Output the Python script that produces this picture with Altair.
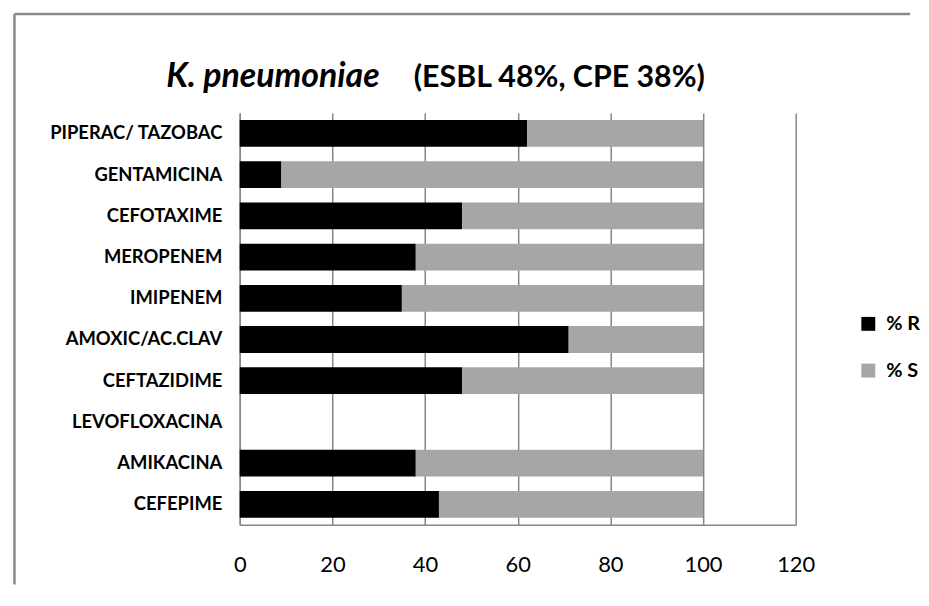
import altair as alt
import pandas as pd

# ---- data ----
drugs = ["PIPERAC/ TAZOBAC", "GENTAMICINA", "CEFOTAXIME", "MEROPENEM", "IMIPENEM",
         "AMOXIC/AC.CLAV", "CEFTAZIDIME", "LEVOFLOXACINA", "AMIKACINA", "CEFEPIME"]
pct_r = [62, 9, 48, 38, 35, 71, 48, 0, 38, 43]
pct_s = [38, 91, 52, 62, 65, 29, 52, 0, 62, 57]
series = ["% R", "% S"]
colors = ["#000000", "#a6a6a6"]
x_ticks = [0, 20, 40, 60, 80, 100, 120]
title_main = "K. pneumoniae"
title_sub = "(ESBL 48%, CPE 38%)"

rows = []
for d, r, s in zip(drugs, pct_r, pct_s):
    rows.append({"drug": d, "serie": series[0], "val": r, "ord": 0})
    rows.append({"drug": d, "serie": series[1], "val": s, "ord": 1})
df = pd.DataFrame(rows)

FONT = "Lato"
GRID = "#868686"

bars = alt.Chart(df).mark_bar().encode(
    y=alt.Y("drug:N", sort=drugs,
            scale=alt.Scale(paddingInner=0.35, paddingOuter=0.17),
            axis=alt.Axis(title=None, ticks=False, labelFont=FONT, labelFontSize=18.5,
                          labelFontWeight="bold", labelColor="#000000", labelPadding=18,
                          domainColor=GRID, domainWidth=1.5, grid=False)),
    x=alt.X("val:Q", stack="zero",
            scale=alt.Scale(domain=[0, 120], nice=False),
            axis=alt.Axis(title=None, values=x_ticks, ticks=False, labelFont=FONT,
                          labelFontSize=22, labelColor="#000000", labelPadding=30,
                          grid=True, gridColor=GRID, gridWidth=1.5,
                          domainColor=GRID, domainWidth=1.5, labelFlush=False)),
    color=alt.Color("serie:N", scale=alt.Scale(domain=series, range=colors),
                    legend=alt.Legend(title=None, orient="none", legendX=622, legendY=202,
                                      symbolType="square", symbolSize=196,
                                      symbolStrokeWidth=0, labelFont=FONT,
                                      labelFontSize=20, labelFontWeight="bold",
                                      labelColor="#000000", labelOffset=8,
                                      rowPadding=27, padding=0)),
    order=alt.Order("ord:Q"),
)

t1 = alt.Chart(pd.DataFrame({"t": [title_main]})).mark_text(
    font=FONT, fontSize=34, fontWeight="bold", fontStyle="italic",
    align="left", baseline="alphabetic", color="#000000"
).encode(x=alt.value(-74), y=alt.value(-26), text="t:N")

t2 = alt.Chart(pd.DataFrame({"t": [title_sub]})).mark_text(
    font=FONT, fontSize=30.5, fontWeight="bold",
    align="left", baseline="alphabetic", color="#000000"
).encode(x=alt.value(175), y=alt.value(-26), text="t:N")

border_top = alt.Chart(pd.DataFrame({"k": [0]})).mark_rule(
    color="#8a8a8a", strokeWidth=2.5
).encode(x=alt.value(-226.5), x2=alt.value(674), y=alt.value(-99.5))

border_left = alt.Chart(pd.DataFrame({"k": [0]})).mark_rule(
    color="#8a8a8a", strokeWidth=2.5
).encode(x=alt.value(-226.5), y=alt.value(-99.5), y2=alt.value(474))

chart = alt.layer(border_top, border_left, bars, t1, t2).properties(
    width=559, height=414,
    padding={"left": 5, "top": 3, "right": 0, "bottom": 0},
).configure_view(strokeWidth=0)

chart.save("out.html", embed_options={"renderer": "svg", "actions": False})
